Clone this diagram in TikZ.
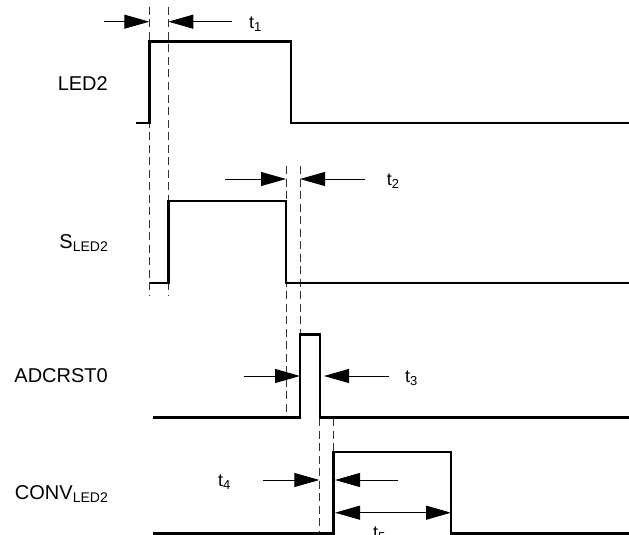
\documentclass[tikz,border=0pt]{standalone}
\usepackage{fontspec}
\setmainfont{Liberation Sans}
\usetikzlibrary{arrows.meta}
\newcommand{\bigsub}[1]{\raisebox{-2.7pt}{\fontsize{14}{16}\selectfont #1}}
\newcommand{\tsub}[1]{\raisebox{-3pt}{\fontsize{13}{15}\selectfont #1}}
\begin{document}
\begin{tikzpicture}[x=1pt,y=-1pt,
  wave/.style={line width=2.4pt, line join=miter},
  guide/.style={line width=1pt, dash pattern=on 8pt off 4.5pt, black!80},
  marker/.style={line width=1pt, -{Triangle[length=25pt,width=14pt]}},
  dmarker/.style={line width=1pt, {Triangle[length=25pt,width=14pt]}-{Triangle[length=25pt,width=14pt]}},
  lab/.style={inner sep=0pt, anchor=base east, font=\fontsize{20}{24}\selectfont},
  tlab/.style={inner sep=0pt, anchor=base west, font=\fontsize{18}{21}\selectfont}]
\useasboundingbox (0,0) rectangle (629,535);
\clip (0,0) rectangle (629,535);

% signal labels
\node[lab] (lled) at (108,90) {LED2};
\node[lab] (lsled) at (108,248.3) {S\bigsub{LED2}};
\node[lab] (ladc) at (108,382.3) {ADCRST0};
\node[lab] (lconv) at (108,499.3) {CONV\bigsub{LED2}};

% guide lines
\draw[guide] (149.3,7) -- (149.3,296);
\draw[guide] (168.3,7) -- (168.3,296);
\draw[guide] (286,166) -- (286,418);
\draw[guide] (300,166) -- (300,418);
\draw[guide] (319.3,418) -- (319.3,535);
\draw[guide] (333.5,418) -- (333.5,535);

% waveforms
\draw[wave] (136,123) -- (149.3,123) -- (149.3,41.7) -- (290.7,41.7) -- (290.7,123) -- (629,123);
\draw[wave] (150,282.7) -- (168.3,282.7) -- (168.3,200.7) -- (286,200.7) -- (286,282.7) -- (629,282.7);
\draw[wave] (153,417.3) -- (300,417.3) -- (300,334.3) -- (320,334.3) -- (320,417.3) -- (629,417.3);
\draw[wave] (153,533.5) -- (333.5,533.5) -- (333.5,452) -- (451,452) -- (451,533.5) -- (629,533.5);

% timing markers
\coordinate (a1s) at (104,21.7);  \coordinate (a1e) at (149.3,21.7);
\coordinate (b1s) at (232,21.7);  \coordinate (b1e) at (168.3,21.7);
\draw[marker] (a1s) -- (a1e);
\draw[marker] (b1s) -- (b1e);
\node[tlab] (t1) at (249,28.3) {t\tsub{1}};

\coordinate (a2s) at (225,179);  \coordinate (a2e) at (286,179);
\coordinate (b2s) at (365,179);  \coordinate (b2e) at (300,179);
\draw[marker] (a2s) -- (a2e);
\draw[marker] (b2s) -- (b2e);
\node[tlab] (t2) at (386.7,185.5) {t\tsub{2}};

\coordinate (a3s) at (244,376);  \coordinate (a3e) at (300,376);
\coordinate (b3s) at (389,376);  \coordinate (b3e) at (324,376);
\draw[marker] (a3s) -- (a3e);
\draw[marker] (b3s) -- (b3e);
\node[tlab] (t3) at (405,382.7) {t\tsub{3}};

\coordinate (a4s) at (263,480);  \coordinate (a4e) at (319.3,480);
\coordinate (b4s) at (398,480);  \coordinate (b4e) at (335,480);
\draw[marker] (a4s) -- (a4e);
\draw[marker] (b4s) -- (b4e);
\node[tlab] (t4) at (218,486.7) {t\tsub{4}};

\coordinate (a5s) at (335,512.7);  \coordinate (a5e) at (451,512.7);
\draw[dmarker] (a5s) -- (a5e);
\node[tlab] (t5) at (373,538) {t\tsub{5}};
\end{tikzpicture}
\end{document}
